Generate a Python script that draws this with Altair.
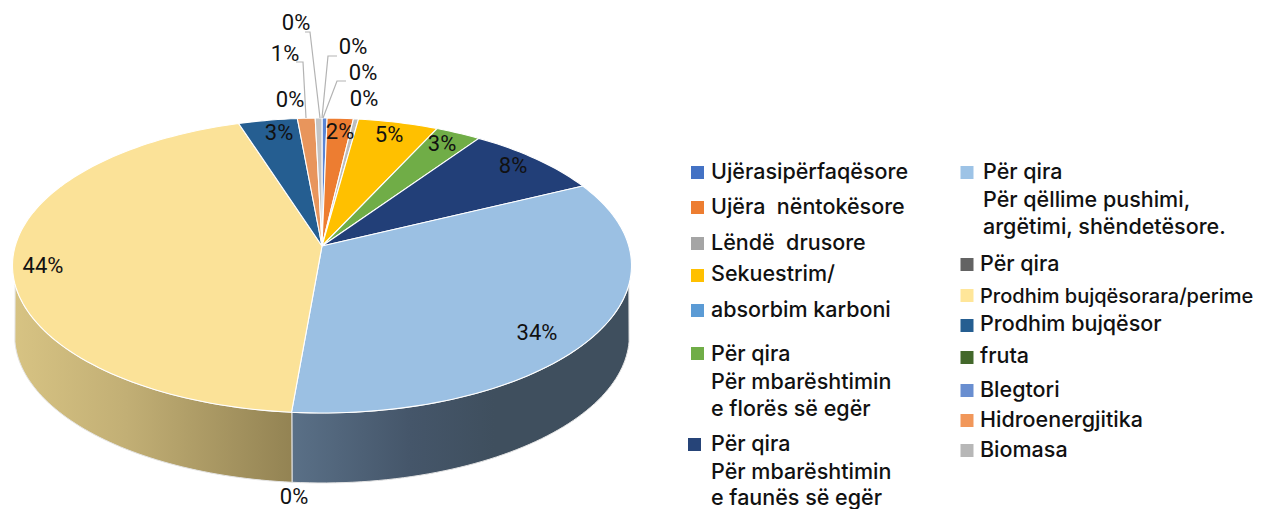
import math
import altair as alt
import pandas as pd

W, H = 1265, 501

# shares (percent of the pie), clockwise from 12 o'clock
slice_names = ["Ujërasipërfaqësore", "Ujëra nëntokësore", "Lëndë drusore", "Sekuestrim", "Për mbarështimin e florës",
               "Për mbarështimin e faunës", "Për qëllime pushimi", "Prodhim bujqësor arara", "Prodhim bujqësor",
               "Hidroenergjitika", "Biomasa"]
slice_shares = [0.3, 1.55, 0.3, 4.75, 2.7, 8.2, 33.6, 43.7, 3.5, 1.05, 0.4]
slice_colors = ["#5b85d4", "#ed7d31", "#bdbdbd", "#ffc000", "#70ad47", "#223f78", "#9bc0e3", "#fbe298", "#255e91",
                "#e8955c", "#c4c4c4"]

pct_labels = ["2%", "5%", "3%", "8%", "34%", "44%", "3%", "0%", "0%", "1%", "0%", "0%", "0%", "0%"]
pct_x = [340, 389, 442, 513, 537, 43, 279, 294, 290, 285, 296, 353, 363, 364]
pct_y = [132, 135, 144, 166, 333, 266, 133, 497, 100, 54, 23, 47, 73, 99]

leader_ids = [0, 0, 0, 1, 1, 1, 2, 2, 2, 3, 3, 3]
leader_x = [305, 310, 320, 296, 303, 306, 337, 328, 322, 346, 337, 323]
leader_y = [32, 32, 118, 62, 62, 118, 56, 56, 118, 81, 81, 118]

swatch_colors = ["#4472c4", "#ed7d31", "#a5a5a5", "#ffc000", "#5b9bd5", "#70ad47", "#264478",
                 "#9dc3e6", "#636363", "#ffe699", "#255e91", "#43682b", "#698ed0", "#f1975a", "#b7b7b7"]
swatch_x = [697.5, 697.5, 697.5, 697.5, 697.5, 697.5, 694.5,
            967, 967, 967, 967, 967, 967, 967, 967]
swatch_y = [172.5, 207.5, 243.5, 275.5, 310.5, 353.5, 444.5,
            172.5, 264.5, 295.5, 325.5, 357.5, 390.5, 420.5, 450.5]

legend_text = ["Ujërasipërfaqësore", "Ujëra\u00a0 nëntokësore", "Lëndë\u00a0 drusore", "Sekuestrim/", "absorbim karboni",
               "Për qira", "Për mbarështimin", "e florës së egër",
               "Për qira", "Për mbarështimin", "e faunës së egër",
               "Për qira", "Për qëllime pushimi,", "argëtimi, shëndetësore.",
               "Për qira", "Prodhim bujqësor", "fruta", "Blegtori",
               "Hidroenergjitika", "Biomasa"]
legend_x = [711] * 11 + [983] * 3 + [980] * 6
legend_y = [179, 214, 250, 281, 317, 361, 389, 416, 451, 479, 505, 179, 207, 234, 271, 331, 363, 397, 427, 457]

tight_text = ["Prodhim bujqësorara/perime"]
tight_x = [980]
tight_y = [303]

# perspective projection of the pie disc
CX, CY, A, B, K = 322.0, 246.0, 306.8, 144.9, 0.1322


def project(theta_deg, dy=0.0, sx=1.0):
    t = math.radians(theta_deg)
    u, v = math.sin(t), math.cos(t)
    d = 1 + K * v
    return CX + sx * A * u / d, CY + dy - B * v / d


X = alt.X("x:Q", scale=alt.Scale(domain=[8, 8 + W], nice=False, zero=False), axis=None)
Y = alt.Y("y:Q", scale=alt.Scale(domain=[8 + H, 8], nice=False, zero=False), axis=None)
ORDER = alt.Order("i:Q")


def poly(points, **mark):
    df = pd.DataFrame({"x": [p[0] for p in points], "y": [p[1] for p in points], "i": range(len(points))})
    return alt.Chart(df).mark_line(interpolate="linear-closed", **mark).encode(x=X, y=Y, order=ORDER)


def wall(t0, t1, t2, t3, stops):
    pts = [project(t0 + (t1 - t0) * k / 60) for k in range(61)]
    pts += [project(t2 + (t3 - t2) * k / 60, dy=70, sx=0.993) for k in range(61)]
    grad = alt.Gradient(gradient="linear", x1=0, y1=0, x2=1, y2=0,
                        stops=[alt.GradientStop(offset=o, color=c) for o, c in stops])
    return poly(pts, fill=grad, stroke="#e4e4e4", strokeWidth=1)


total = sum(slice_shares)
layers = []
# side walls
layers.append(wall(105, 184.9, 184.9, 100, [(0, "#5a7087"), (0.35, "#45566a"), (0.6, "#3f4f5e"), (1, "#3f4f5e")]))
layers.append(wall(184.9, 255, 260, 184.9, [(0, "#d7c383"), (0.4, "#c2af75"), (1, "#938353")]))

# top face
start = 0.0
for share, color in zip(slice_shares, slice_colors):
    end = start + share / total * 360
    n = max(2, int((end - start) / 1.5) + 1)
    pts = [(CX, CY)] + [project(start + (end - start) * k / n) for k in range(n + 1)]
    layers.append(poly(pts, fill=color, stroke="#ffffff", strokeWidth=1.1))
    start = end

leaders = pd.DataFrame({"x": leader_x, "y": leader_y, "id": leader_ids, "i": range(len(leader_x))})
layers.append(alt.Chart(leaders).mark_line(color="#b3b3b3", strokeWidth=1.2).encode(x=X, y=Y, detail="id:N", order=ORDER))

pcts = pd.DataFrame({"x": pct_x, "y": pct_y, "t": pct_labels})
layers.append(alt.Chart(pcts).mark_text(font="Roboto", fontSize=22, fontWeight=400, color="#111111", align="center",
                                        baseline="middle").encode(x=X, y=Y, text="t:N"))

sw = pd.DataFrame({"x": swatch_x, "y": swatch_y, "c": swatch_colors})
layers.append(alt.Chart(sw).mark_square(size=169, opacity=1).encode(x=X, y=Y, color=alt.Color("c:N", scale=None)))

leg = pd.DataFrame({"x": legend_x, "y": legend_y, "t": legend_text})
layers.append(alt.Chart(leg).mark_text(font="Inter", fontSize=21.5, fontWeight=500, color="#111111", align="left",
                                       baseline="alphabetic").encode(x=X, y=Y, text="t:N"))
tight = pd.DataFrame({"x": tight_x, "y": tight_y, "t": tight_text})
layers.append(alt.Chart(tight).mark_text(font="Inter", fontSize=20, fontWeight=500, color="#111111", align="left",
                                         baseline="alphabetic").encode(x=X, y=Y, text="t:N"))

chart = alt.layer(*layers).properties(width=W, height=H, padding=0, autosize=alt.AutoSizeParams(type="none")).configure_view(stroke=None)
chart.save("out.html", embed_options={"renderer": "svg", "actions": False})
